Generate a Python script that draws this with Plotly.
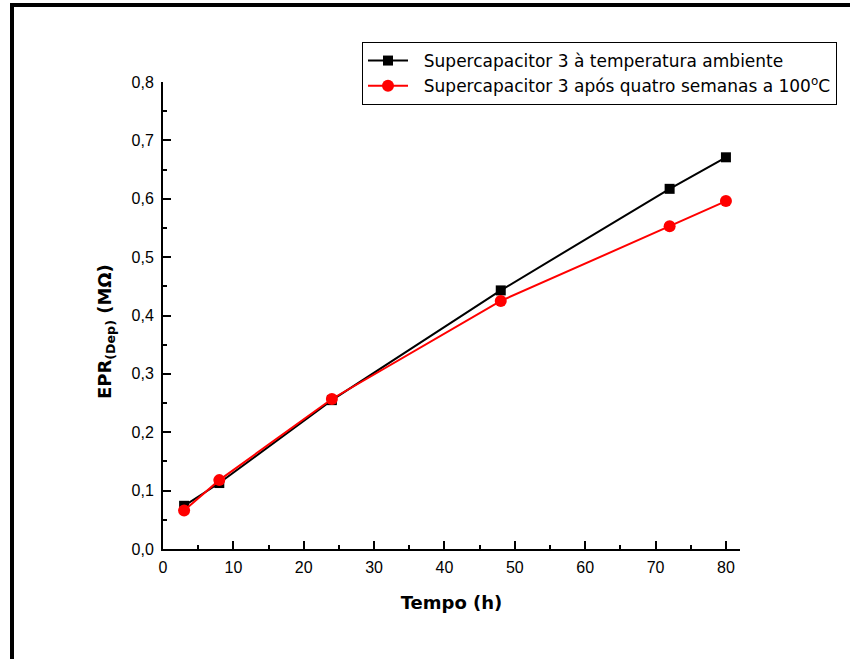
import plotly.graph_objects as go

tempo = [3, 8, 24, 48, 72, 80]
epr_ambiente = [0.074, 0.113, 0.255, 0.443, 0.617, 0.671]
epr_100c = [0.066, 0.118, 0.257, 0.425, 0.553, 0.596]
name_a = "Supercapacitor 3 à temperatura ambiente"
name_b = "Supercapacitor 3 após quatro semanas a 100<sup>o</sup>C"
pad = "\u00a0\u00a0"

L, R, T, B = 163, 110, 82, 110
W, H = 850, 659
pw, ph = W - L - R, H - T - B

def px(x):
    return (x - L) / pw

def py(y):
    return (H - B - y) / ph

fig = go.Figure()
fig.add_trace(go.Scatter(x=tempo, y=epr_ambiente, name=pad + name_a, mode="lines+markers",
                         line=dict(color="black", width=2),
                         marker=dict(symbol="square", size=10, color="black")))
fig.add_trace(go.Scatter(x=tempo, y=epr_100c, name=pad + name_b, mode="lines+markers",
                         line=dict(color="#ff0000", width=2),
                         marker=dict(symbol="circle", size=12, color="#ff0000")))

axis_common = dict(showgrid=False, zeroline=False, showline=True, linecolor="black", linewidth=2,
                   ticks="inside", ticklen=8, tickwidth=2, tickcolor="black",
                   tickfont=dict(family="Liberation Sans, Arial", size=16, color="black"),
                   minor=dict(ticks="inside", ticklen=4, tickwidth=2, tickcolor="black"))

title_font = dict(family="DejaVu Sans, Verdana", size=18, color="black")

fig.update_layout(
    width=W, height=H,
    margin=dict(l=L, r=R, t=T, b=B),
    plot_bgcolor="white", paper_bgcolor="white",
    separators=",.",
    xaxis=dict(range=[0, 82], dtick=10, tick0=0, ticklabelstandoff=3, **axis_common,
               title=dict(text="<b>Tempo (h)</b>", font=title_font, standoff=21)),
    yaxis=dict(range=[0, 0.8], dtick=0.1, tick0=0, tickformat=".1f", ticklabelstandoff=4, **axis_common),
    legend=dict(x=px(362), y=py(42), xanchor="left", yanchor="top",
                bordercolor="black", borderwidth=1, bgcolor="white",
                font=dict(family="DejaVu Sans, Verdana", size=17, color="black"),
                tracegroupgap=0, itemwidth=40),
    showlegend=True,
)
fig.update_xaxes(minor=dict(dtick=5))
fig.update_yaxes(minor=dict(dtick=0.05))

fig.add_annotation(text="<b>EPR<sub>(Dep)</sub> (MΩ)</b>", xref="paper", yref="paper",
                   x=px(106), y=py(332), textangle=-90, showarrow=False,
                   xanchor="center", yanchor="middle", font=title_font)

# outer frame (left and top edges visible)
fig.add_shape(type="line", xref="paper", yref="paper", x0=px(12), x1=px(12), y0=py(5), y1=py(700),
              line=dict(color="black", width=4))
fig.add_shape(type="line", xref="paper", yref="paper", x0=px(10), x1=px(900), y0=py(5), y1=py(5),
              line=dict(color="black", width=4))

fig.write_html("out.html")
